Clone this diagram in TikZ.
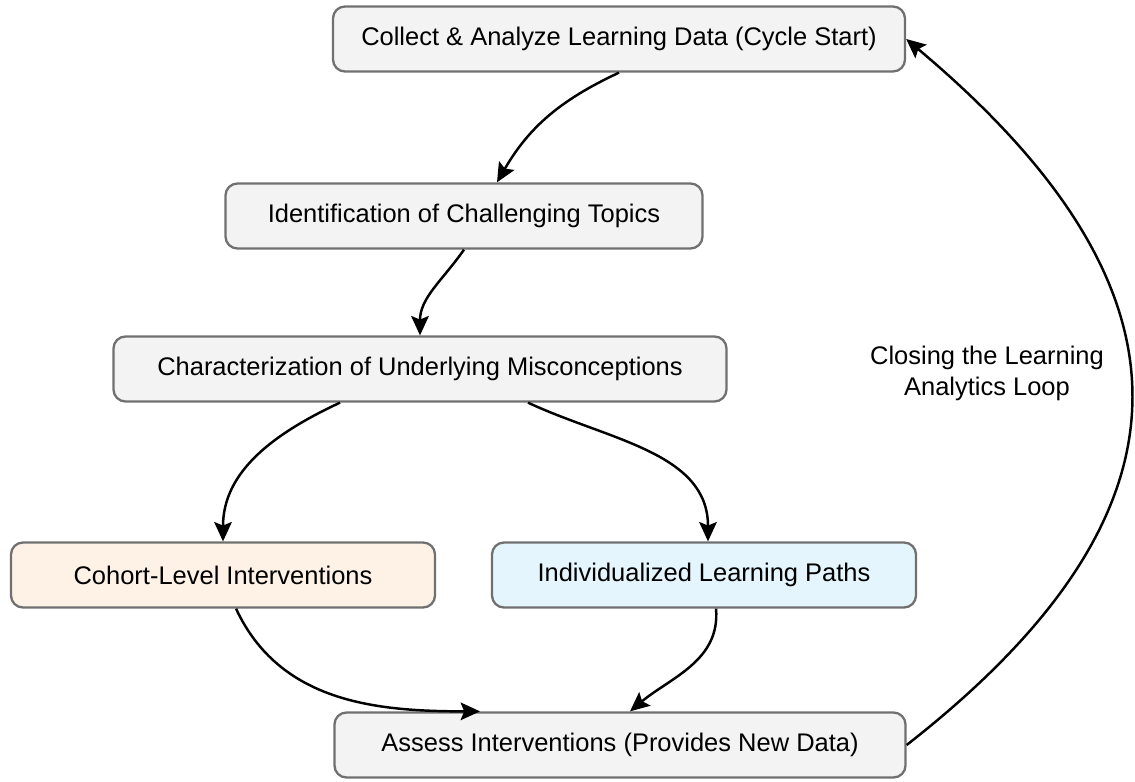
\documentclass[tikz,border=0pt]{standalone}
\usepackage{fontspec}
\setmainfont{Liberation Sans}
\usepackage{xcolor}
\usepackage{tikz}
\usetikzlibrary{positioning}
\usetikzlibrary{arrows.meta}

\definecolor{boxgray}{HTML}{F3F3F3}
\definecolor{edgegray}{HTML}{707070}
\definecolor{cohortfill}{HTML}{FEF1E6}
\definecolor{pathfill}{HTML}{E4F5FD}

\begin{document}
\begin{tikzpicture}[->,>={Stealth[length=11pt,width=10pt,inset=2pt]},line width=1.4pt,
  box/.style={draw=edgegray,line width=1.3pt,fill=boxgray,rounded corners=0.24cm,
    minimum height=1.3cm,align=center,font=\fontsize{14.5}{17.4}\selectfont},
  note/.style={align=center,font=\fontsize{14.5}{17.6}\selectfont}]
\useasboundingbox (0,0) rectangle (22.7,-15.62);
\node[box,minimum width=11.44cm] (collect) at (12.38,-0.78) {Collect \& Analyze Learning Data (Cycle Start)};
\node[box,minimum width=9.54cm]  (ident)  [node distance=3.54cm,below of=collect,xshift=-3.1cm] {Identification of Challenging Topics};
\node[box,minimum width=12.26cm] (charac) [node distance=3.06cm,below of=ident,xshift=-0.88cm] {Characterization of Underlying Misconceptions};
\node[box,minimum width=8.48cm,fill=cohortfill] (cohort) [node distance=4.12cm,below of=charac,xshift=-3.94cm] {Cohort-Level Interventions};
\node[box,minimum width=8.48cm,fill=pathfill]   (indiv)  [node distance=4.12cm,below of=charac,xshift=5.68cm] {Individualized Learning Paths};
\node[box,minimum width=11.42cm] (assess) [node distance=3.4cm,below of=indiv,xshift=-1.68cm] {Assess Interventions (Provides New Data)};
\node[note] (loop) [node distance=11.34cm,right of=charac,yshift=-0.08cm] {Closing the Learning\\Analytics Loop};
\path (collect.south) edge [out=205,in=60] ([xshift=0.66cm]ident.north)
      (ident.south) edge [out=235,in=90] (charac.north)
      ([xshift=-1.6cm]charac.south) edge [out=205,in=90] (cohort.north)
      ([xshift=2.16cm]charac.south) edge [out=-25,in=90] ([xshift=0.08cm]indiv.north)
      ([xshift=0.26cm]cohort.south) edge [out=-65,in=180] ([xshift=-2.8cm]assess.north)
      ([xshift=0.24cm]indiv.south) edge [out=-85,in=40] ([xshift=0.2cm]assess.north)
      (assess.east) edge [out=38,in=-40,looseness=1.4] (collect.east);
\end{tikzpicture}
\end{document}
